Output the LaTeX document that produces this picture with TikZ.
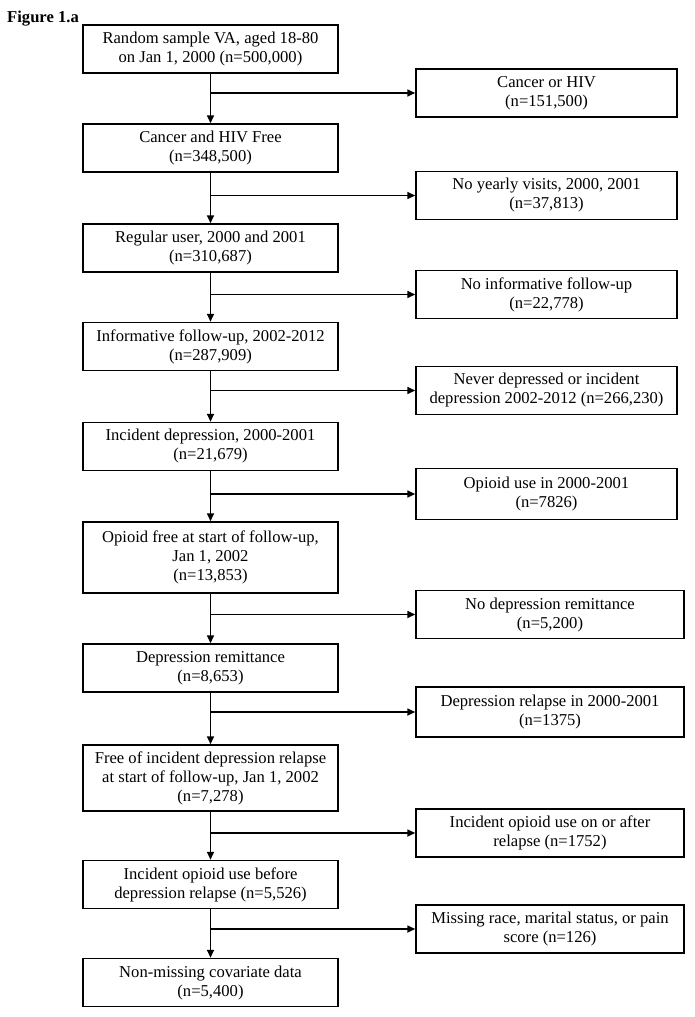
\documentclass[tikz,border=0pt]{standalone}
\usepackage{fontspec}
\setmainfont{Liberation Serif}
\usetikzlibrary{arrows.meta}

\tikzset{
  mainbox/.style={draw, line width=1.5pt, minimum width=255pt, minimum height=48pt,
    align=center, inner sep=2pt, font=\fontsize{16.6}{19}\selectfont},
  sidebox/.style={mainbox, minimum width=261pt},
  widebox/.style={mainbox, minimum width=268pt},
  flow/.style={line width=1.6pt, -{Triangle[length=8pt,width=7pt]}}
}

\begin{document}
\begin{tikzpicture}[x=1pt, y=-1pt]
      \useasboundingbox (0,0) rectangle (694,1017);
      \node [anchor=base west, inner sep=0pt, font=\fontsize{16.6}{19}\selectfont\bfseries] (title) at (7,22) {Figure 1.a};

      \node [mainbox] (va) at (210.5,49) {Random sample VA, aged 18-80\\on Jan 1, 2000 (n=500,000)};
      \node [mainbox] (free) at (210.5,148) {Cancer and HIV Free\\(n=348,500)};
      \node [mainbox] (regular) at (210.5,248) {Regular user, 2000 and 2001\\(n=310,687)};
      \node [mainbox] (inform) at (210.5,346.5) {Informative follow-up, 2002-2012\\(n=287,909)};
      \node [mainbox] (incdep) at (210.5,446.5) {Incident depression, 2000-2001\\(n=21,679)};
      \node [mainbox, minimum height=71pt] (opfree) at (210.5,557.5) {Opioid free at start of follow-up,\\Jan 1, 2002\\(n=13,853)};
      \node [mainbox] (remit) at (210.5,668) {Depression remittance\\(n=8,653)};
      \node [mainbox, minimum height=66pt] (norelapse) at (210.5,778) {Free of incident depression relapse\\at start of follow-up, Jan 1, 2002\\(n=7,278)};
      \node [mainbox] (opbefore) at (210.5,884.5) {Incident opioid use before\\depression relapse (n=5,526)};
      \node [mainbox] (final) at (210.5,982.5) {Non-missing covariate data\\(n=5,400)};

      \node [sidebox] (cancer) at (546.5,93) {Cancer or HIV\\(n=151,500)};
      \node [sidebox] (novisit) at (546.5,195.5) {No yearly visits, 2000, 2001\\(n=37,813)};
      \node [sidebox] (noinform) at (546.5,294.5) {No informative follow-up\\(n=22,778)};
      \node [sidebox] (never) at (546.5,390.5) {Never depressed or incident\\depression 2002-2012 (n=266,230)};
      \node [sidebox, minimum height=51pt] (opuse) at (546.5,494) {Opioid use in 2000-2001\\(n=7826)};
      \node [widebox] (noremit) at (550,614.5) {No depression remittance\\(n=5,200)};
      \node [widebox, minimum height=50pt] (relapse) at (550,712) {Depression relapse in 2000-2001\\(n=1375)};
      \node [widebox] (opafter) at (550,833) {Incident opioid use on or after\\relapse (n=1752)};
      \node [widebox] (missing) at (550,929) {Missing race, marital status, or pain\\score (n=126)};

      \draw [flow] (va) -- (free);
      \draw [flow] (free) -- (regular);
      \draw [flow] (regular) -- (inform);
      \draw [flow] (inform) -- (incdep);
      \draw [flow] (incdep) -- (opfree);
      \draw [flow] (opfree) -- (remit);
      \draw [flow] (remit) -- (norelapse);
      \draw [flow] (norelapse) -- (opbefore);
      \draw [flow] (opbefore) -- (final);

      \draw [flow] (va.south |- cancer.west) -- (cancer.west);
      \draw [flow] (free.south |- novisit.west) -- (novisit.west);
      \draw [flow] (regular.south |- noinform.west) -- (noinform.west);
      \draw [flow] (inform.south |- never.west) -- (never.west);
      \draw [flow] (incdep.south |- opuse.west) -- (opuse.west);
      \draw [flow] (opfree.south |- noremit.west) -- (noremit.west);
      \draw [flow] (remit.south |- relapse.west) -- (relapse.west);
      \draw [flow] (norelapse.south |- opafter.west) -- (opafter.west);
      \draw [flow] (opbefore.south |- missing.west) -- (missing.west);
\end{tikzpicture}
\end{document}
